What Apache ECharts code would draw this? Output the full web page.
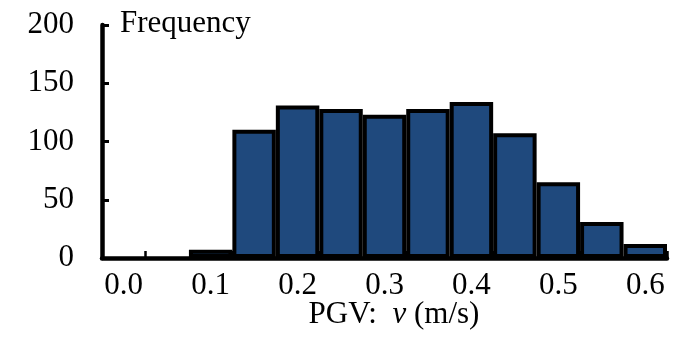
<!DOCTYPE html>
<html>
<head>
<meta charset="utf-8">
<script src="https://cdn.jsdelivr.net/npm/echarts@6/dist/echarts.min.js"></script>
<style>
  html, body { margin: 0; padding: 0; background: #fff; }
  #chart { width: 677px; height: 353px; }
</style>
</head>
<body>
<div id="chart"></div>
<script>
// Histogram bins of PGV (m/s), one category per 0.05 m/s
const binLabels = ['0.0', '0.05', '0.1', '0.15', '0.2', '0.25', '0.3', '0.35', '0.4', '0.45', '0.5', '0.55', '0.6'];
const frequency = [0, 0, 7, 110, 131, 128, 123, 128, 134, 107, 65, 31, 12];
const yTicks = { min: 0, max: 200, step: 50 };

const serif = '"Liberation Serif", "Times New Roman", serif';
const chart = echarts.init(document.getElementById('chart'), null, { renderer: 'canvas' });

// empty bins get no outline so nothing is drawn on the axis line
const barData = frequency.map(v => v === 0 ? { value: v, itemStyle: { borderWidth: 0 } } : v);

chart.setOption({
  animation: false,
  backgroundColor: '#ffffff',
  grid: { left: 102, right: 10, top: 25, bottom: 95 },
  xAxis: {
    type: 'category',
    data: binLabels,
    boundaryGap: true,
    axisLine: { lineStyle: { color: '#000', width: 4.5 } },
    axisTick: {
      show: true,
      inside: true,
      length: 7,
      interval: function (index) { return index % 2 === 1; },
      lineStyle: { color: '#000', width: 2.5 }
    },
    axisLabel: {
      interval: 1,
      margin: 12,
      color: '#000',
      fontFamily: serif,
      fontSize: 31
    },
    splitLine: { show: false }
  },
  yAxis: {
    type: 'value',
    min: yTicks.min,
    max: yTicks.max,
    interval: yTicks.step,
    axisLine: { show: true, lineStyle: { color: '#000', width: 4.5 } },
    axisTick: { show: true, inside: true, length: 7, lineStyle: { color: '#000', width: 3 } },
    axisLabel: {
      margin: 28,
      color: '#000',
      fontFamily: serif,
      fontSize: 31
    },
    splitLine: { show: false }
  },
  series: [{
    type: 'bar',
    data: barData,
    barCategoryGap: '0%',
    itemStyle: {
      color: '#1F497D',
      borderColor: '#000',
      borderWidth: 4
    }
  }],
  graphic: [
    {
      type: 'text',
      left: 120,
      top: 8,
      style: {
        text: 'Frequency',
        font: '31px ' + serif,
        fill: '#000'
      }
    },
    {
      type: 'text',
      x: 394,
      y: 315,
      style: {
        text: 'PGV:  {i|v} (m/s)',
        align: 'center',
        verticalAlign: 'middle',
        fontFamily: serif,
        fontSize: 31,
        fill: '#000',
        rich: {
          i: { fontFamily: serif, fontSize: 31, fontStyle: 'italic', fill: '#000' }
        }
      }
    }
  ]
});
</script>
</body>
</html>
